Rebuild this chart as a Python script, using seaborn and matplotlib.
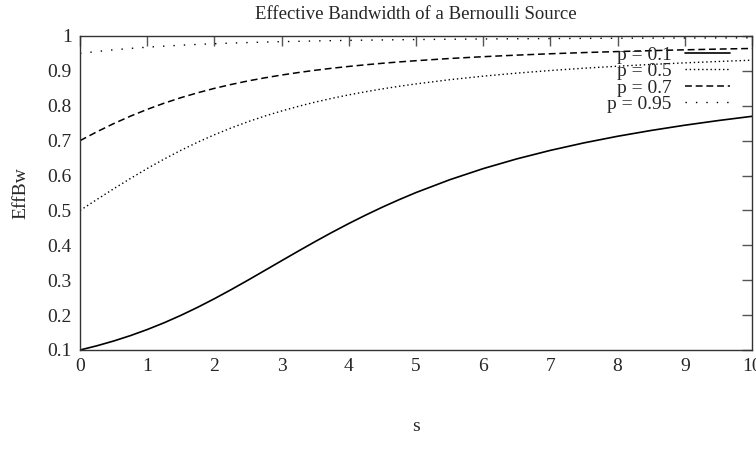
import numpy as np
import pandas as pd
import matplotlib
matplotlib.use("Agg")
import matplotlib.pyplot as plt
import seaborn as sns

s_vals = [0, 0.25, 0.5, 0.75, 1, 1.25, 1.5, 1.75, 2, 2.25, 2.5, 2.75, 3, 3.25, 3.5, 3.75,
          4, 4.25, 4.5, 4.75, 5, 5.5, 6, 6.5, 7, 7.5, 8, 8.5, 9, 9.5, 10]
eb_p01 = [0.100, 0.1120, 0.1257, 0.1412, 0.1586, 0.1779, 0.1992, 0.2223, 0.2470, 0.2731,
          0.3002, 0.3280, 0.3559, 0.3836, 0.4108, 0.4372, 0.4625, 0.4866, 0.5095, 0.5310,
          0.5513, 0.5879, 0.6199, 0.6478, 0.6722, 0.6937, 0.7126, 0.7293, 0.7443, 0.7577, 0.7698]
eb_p05 = [0.500, 0.5312, 0.5619, 0.5916, 0.6201, 0.6470, 0.6722, 0.6955, 0.7169, 0.7365,
          0.7543, 0.7705, 0.7851, 0.7984, 0.8105, 0.8214, 0.8313, 0.8402, 0.8484, 0.8559,
          0.8627, 0.8747, 0.8849, 0.8936, 0.9011, 0.9077, 0.9134, 0.9185, 0.9230, 0.9270, 0.9307]
eb_p07 = [0.700, 0.7253, 0.7488, 0.7702, 0.7897, 0.8073, 0.8231, 0.8372, 0.8499, 0.8611,
          0.8712, 0.8801, 0.8881, 0.8953, 0.9018, 0.9076, 0.9128, 0.9175, 0.9218, 0.9257,
          0.9292, 0.9355, 0.9407, 0.9452, 0.9491, 0.9525, 0.9554, 0.9580, 0.9604, 0.9625, 0.9643]
eb_p095 = [0.950, 0.9555, 0.9603, 0.9644, 0.9679, 0.9709, 0.9736, 0.9759, 0.9779, 0.9797,
           0.9812, 0.9826, 0.9838, 0.9848, 0.9858, 0.9867, 0.9874, 0.9881, 0.9887, 0.9893,
           0.9898, 0.9907, 0.9915, 0.9921, 0.9927, 0.9932, 0.9936, 0.9940, 0.9943, 0.9946, 0.9949]
labels = ["p = 0.1", "p = 0.5", "p = 0.7", "p = 0.95"]
x_ticks = [0, 1, 2, 3, 4, 5, 6, 7, 8, 9, 10]
y_ticks = [0.1, 0.2, 0.3, 0.4, 0.5, 0.6, 0.7, 0.8, 0.9, 1.0]
y_ticklabels = ["0.1", "0.2", "0.3", "0.4", "0.5", "0.6", "0.7", "0.8", "0.9", "1"]

sns.set_style("white")
plt.rcParams["font.family"] = ["Liberation Serif", "DejaVu Serif"]

fig = plt.figure(figsize=(7.56, 4.66), dpi=100)
ax = fig.add_axes([80 / 756, 1 - 350 / 466, 672 / 756, 314 / 466])

series = [eb_p01, eb_p05, eb_p07, eb_p095]
styles = ["-", (0, (1, 2.0)), (0, (4.5, 2.5)), (0, (1, 6.5))]
widths = [1.2, 1.0, 1.1, 1.0]
for vals, lab, ls, lw in zip(series, labels, styles, widths):
    df = pd.DataFrame({"s": s_vals, "EffBw": vals})
    sns.lineplot(data=df, x="s", y="EffBw", ax=ax, color="black", linestyle=ls,
                 linewidth=lw, label=lab)

ax.set_xlim(0, 10)
ax.set_ylim(0.1, 1.0)
ax.set_xticks(x_ticks)
ax.set_xticklabels([str(t) for t in x_ticks])
ax.set_yticks(y_ticks)
ax.set_yticklabels(y_ticklabels)
ax.tick_params(direction="in", length=7, width=1, color="#555555", labelsize=14,
               top=True, right=True, pad=6)
for sp in ax.spines.values():
    sp.set_color("#333333")
    sp.set_linewidth(1)

ax.set_xlabel("s", fontsize=14)
ax.xaxis.set_label_coords(0.5, -0.215)
ax.set_ylabel("EffBw", fontsize=14, rotation=90)
ax.yaxis.set_label_coords(-0.075, 0.5)
ax.set_title("Effective Bandwidth of a Bernoulli Source", fontsize=13.5, pad=12.5)

leg = ax.legend(loc="upper right", bbox_to_anchor=(0.967, 0.968), frameon=False,
                markerfirst=False, fontsize=14, labelspacing=-0.06, handlelength=2.3,
                handletextpad=0.7, borderaxespad=0.0, borderpad=0.0)
for t in leg.get_texts():
    t.set_ha("right")

fig.savefig("out.png", dpi=100)
